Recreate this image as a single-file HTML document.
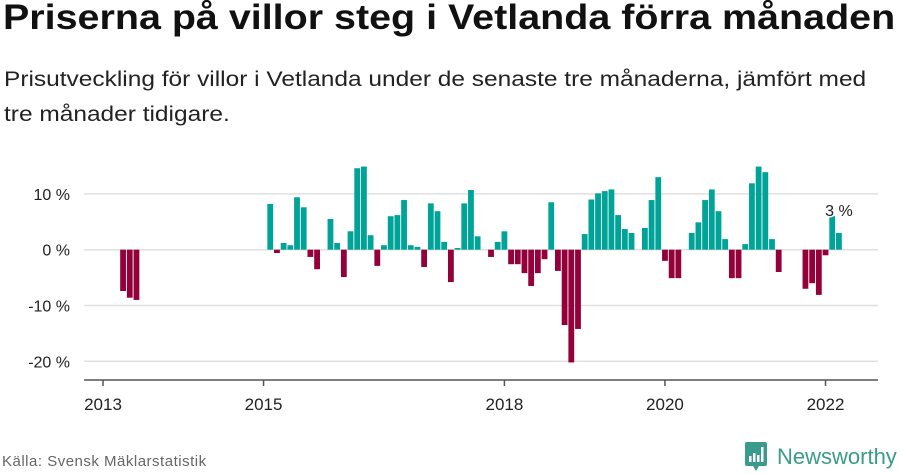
<!DOCTYPE html>
<html><head><meta charset="utf-8"><style>
body{margin:0;width:900px;height:474px;background:#fff;font-family:"Liberation Sans",sans-serif;overflow:hidden;position:relative}
h1{position:absolute;left:3px;top:-2px;margin:0;font-size:35px;font-weight:bold;color:#111;white-space:nowrap;transform:scaleX(1.127);transform-origin:0 0}
.sub{position:absolute;left:4px;margin:0;font-size:21px;color:#222;white-space:nowrap;transform:scaleX(1.165);transform-origin:0 0}
.src{position:absolute;left:2px;top:453px;font-size:15px;color:#666;letter-spacing:0.5px}
.logo{position:absolute;left:745px;top:442px;display:flex;align-items:center}
.logo span{font-size:22px;color:#3a9b8c;margin-left:10px}
</style></head><body>
<h1>Priserna på villor steg i Vetlanda förra månaden</h1>
<div>
<div class="sub" style="top:68px">Prisutveckling för villor i Vetlanda under de senaste tre månaderna, jämfört med</div>
<div class="sub" style="top:103px">tre månader tidigare.</div>
</div>
<svg id="chart" width="900" height="474" style="position:absolute;left:0;top:0"></svg>
<div class="src">Källa: Svensk Mäklarstatistik</div>
<div class="logo">
<svg width="22" height="30" viewBox="0 0 22 30"><path d="M2 0h18a2 2 0 0 1 2 2v20a2 2 0 0 1-2 2h-6l-3 5-3-5H2a2 2 0 0 1-2-2V2a2 2 0 0 1 2-2z" fill="#3a9b8c"/><rect x="4" y="14" width="2.5" height="6" fill="#fff"/><rect x="8" y="11" width="2.5" height="9" fill="#fff"/><rect x="12" y="13" width="2.5" height="7" fill="#fff"/><rect x="16" y="5" width="2.5" height="15" fill="#fff"/></svg>
<span>Newsworthy</span></div>
<script>
const months = [3,4,5,25,26,27,28,29,30,31,32,34,35,36,37,38,39,40,41,42,43,44,45,46,47,48,49,50,51,52,53,54,55,56,58,59,60,61,62,63,64,65,66,67,68,69,70,71,72,73,74,75,76,77,78,79,81,82,83,84,85,86,88,89,90,91,92,93,94,95,96,97,98,99,100,101,105,106,107,108,109,110];
const values = [-7.4,-8.6,-9.0,8.2,-0.6,1.2,0.8,9.4,7.6,-1.3,-3.5,5.5,1.2,-4.9,3.3,14.6,14.9,2.6,-2.9,0.8,6.0,6.2,8.9,0.8,0.5,-3.1,8.3,6.9,1.4,-5.8,0.3,8.3,10.7,2.4,-1.3,1.4,3.3,-2.6,-2.6,-4.2,-6.5,-4.2,-1.7,8.5,-3.8,-13.5,-20.2,-14.2,2.8,9.0,10.1,10.5,10.8,6.2,3.7,3.0,3.9,8.9,13.0,-2.0,-5.1,-5.1,3.0,4.9,8.9,10.8,6.9,1.9,-5.1,-5.1,1.0,11.9,14.9,13.9,1.9,-4.0,-7.0,-6.0,-8.1,-1.0,6.0,3.0];
const yTicks = [10,0,-10,-20];
const yTickLabels = ["10 %","0 %","-10 %","-20 %"];
const xTicks = [0,24,60,84,108];
const xTickLabels = ["2013","2015","2018","2020","2022"];
const lastLabel = "3 %";
const NS="http://www.w3.org/2000/svg";
const svg=document.getElementById('chart');
const y=v=>249.7-v*5.58;
const x=m=>103+m*6.69;
function el(t,a){const e=document.createElementNS(NS,t);for(const k in a)e.setAttribute(k,a[k]);svg.appendChild(e);return e;}
yTicks.forEach((t,i)=>{
  const g=el('line',{x1:84,x2:878,y1:y(t),y2:y(t),stroke:'#e0e0e0','stroke-width':1.5});
  
  
  const l=el('text',{x:70,y:y(t)+6,'text-anchor':'end','font-size':16,fill:'#222','font-family':'Liberation Sans, sans-serif'});
  l.textContent=yTickLabels[i];
  
  
});
values.forEach((v,i)=>{
  const r=el('rect',{x:x(months[i])-2.9,width:5.8,y:v>=0?y(v):y(0),height:Math.abs(y(v)-y(0)),fill:v>=0?'#00a398':'#93003a'});
  
  
});
const ax=el('line',{x1:84,x2:878,y1:380,y2:380,stroke:'#555','stroke-width':1.5});


xTicks.forEach((t,i)=>{
  const tk=el('line',{x1:x(t),x2:x(t),y1:380,y2:386,stroke:'#555','stroke-width':1.5});
  
  
  const l=el('text',{x:x(t),y:410,'text-anchor':'middle','font-size':17,fill:'#222','font-family':'Liberation Sans, sans-serif'});
  l.textContent=xTickLabels[i];
  
  
});
const lm=months[months.length-1];
const ll=el('text',{x:x(lm),y:216,'text-anchor':'middle','font-size':16,fill:'#222','font-family':'Liberation Sans, sans-serif',stroke:'#fff','stroke-width':3,'paint-order':'stroke'});
ll.textContent=lastLabel;


</script>
</body></html>
